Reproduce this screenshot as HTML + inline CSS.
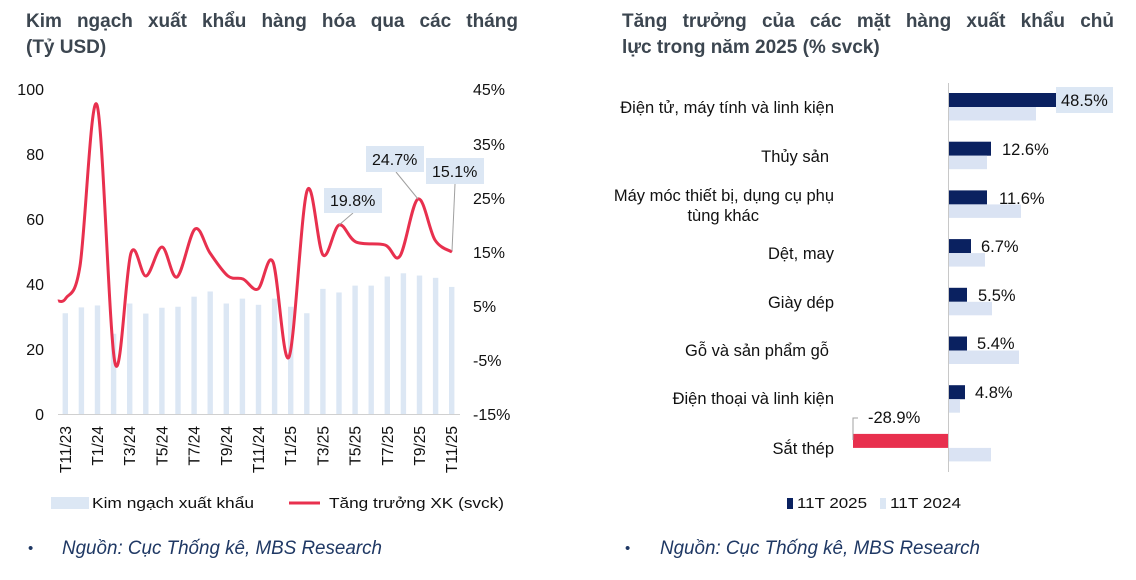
<!DOCTYPE html>
<html><head><meta charset="utf-8"><style>
body{margin:0;background:#fff;width:1136px;height:580px;overflow:hidden;position:relative}
svg{display:block;font-family:"Liberation Sans",sans-serif}
.t{position:absolute;font-family:"Liberation Sans",sans-serif;font-weight:bold;font-size:19px;color:#3c4650;line-height:26px;text-align:justify;text-align-last:justify;width:492px;white-space:nowrap}
.t2{position:absolute;font-family:"Liberation Sans",sans-serif;font-weight:bold;font-size:19px;color:#3c4650;line-height:26px}
</style></head><body>
<svg width="1136" height="580" viewBox="0 0 1136 580">
<g font-size="16" fill="#111">
<text x="44" y="95" text-anchor="end">100</text>
<text x="44" y="160" text-anchor="end">80</text>
<text x="44" y="225" text-anchor="end">60</text>
<text x="44" y="290" text-anchor="end">40</text>
<text x="44" y="355" text-anchor="end">20</text>
<text x="44" y="420" text-anchor="end">0</text>
<text x="473" y="95">45%</text>
<text x="473" y="150">35%</text>
<text x="473" y="204">25%</text>
<text x="473" y="258">15%</text>
<text x="473" y="312">5%</text>
<text x="473" y="366">-5%</text>
<text x="473" y="420">-15%</text>
</g>
<line x1="58" y1="414.5" x2="460" y2="414.5" stroke="#d0d0d0" stroke-width="1"/>
<g fill="#dce7f4" id="bars"></g>
<path id="ln" fill="none" stroke="#e8304e" stroke-width="3" stroke-linejoin="round"/>
<g stroke="#a0a0a0" stroke-width="1">
<line x1="353" y1="213" x2="339" y2="225"/>
<line x1="396" y1="172" x2="418" y2="199"/>
<line x1="455" y1="184" x2="452" y2="251"/>
</g>
<g font-size="16" fill="#111">
<rect x="324" y="188" width="58" height="25" fill="#dce7f4"/><text x="330" y="206">19.8%</text>
<rect x="366" y="146" width="58" height="26" fill="#dce7f4"/><text x="372" y="165">24.7%</text>
<rect x="426" y="158" width="58" height="26" fill="#dce7f4"/><text x="432" y="177">15.1%</text>
</g>
<g font-size="15.5" fill="#111" id="xl"></g>
<rect x="51" y="497" width="38" height="12" fill="#dce7f4"/>
<text x="92" y="508" font-size="15" fill="#111" textLength="162" lengthAdjust="spacingAndGlyphs">Kim ngạch xuất khẩu</text>
<line x1="289" y1="503" x2="320" y2="503" stroke="#e8304e" stroke-width="3"/>
<text x="329" y="508" font-size="15" fill="#111" textLength="175" lengthAdjust="spacingAndGlyphs">Tăng trưởng XK (svck)</text>
<text x="28" y="553" font-size="15" fill="#1f3864">•</text>
<text x="62" y="554" font-size="19" font-style="italic" fill="#1f3864" textLength="320" lengthAdjust="spacingAndGlyphs">Nguồn: Cục Thống kê, MBS Research</text>

<line x1="948.5" y1="83" x2="948.5" y2="472" stroke="#c8c8c8" stroke-width="1"/>
<g id="hb"></g>
<rect x="1056" y="87" width="57" height="26" fill="#dce7f4"/>
<g font-size="16.5" fill="#111">
<text x="1061" y="106">48.5%</text>
<text x="1002" y="155">12.6%</text>
<text x="999" y="204">11.6%</text>
<text x="981" y="252">6.7%</text>
<text x="978" y="301">5.5%</text>
<text x="977" y="349">5.4%</text>
<text x="975" y="398">4.8%</text>
<text x="868" y="423">-28.9%</text>
</g>
<path d="M858 418 L853 418 L853 440" fill="none" stroke="#a0a0a0"/>
<g font-size="16.5" fill="#111" text-anchor="end">
<text x="834" y="113">Điện tử, máy tính và linh kiện</text>
<text x="829" y="162">Thủy sản</text>
<text x="834" y="201">Máy móc thiết bị, dụng cụ phụ</text>
<text x="759" y="221">tùng khác</text>
<text x="834" y="259">Dệt, may</text>
<text x="834" y="308">Giày dép</text>
<text x="829" y="356">Gỗ và sản phẩm gỗ</text>
<text x="834" y="404">Điện thoại và linh kiện</text>
<text x="834" y="454">Sắt thép</text>
</g>
<rect x="787" y="498" width="6" height="11" fill="#0a2160"/>
<text x="797" y="508" font-size="15" fill="#111" textLength="70" lengthAdjust="spacingAndGlyphs">11T 2025</text>
<rect x="880" y="498" width="6" height="11" fill="#dce7f4"/>
<text x="890" y="508" font-size="15" fill="#111" textLength="71" lengthAdjust="spacingAndGlyphs">11T 2024</text>
<text x="625" y="553" font-size="15" fill="#1f3864">•</text>
<text x="660" y="554" font-size="19" font-style="italic" fill="#1f3864" textLength="320" lengthAdjust="spacingAndGlyphs">Nguồn: Cục Thống kê, MBS Research</text>
</svg>
<div class="t" style="left:26px;top:9px">Kim ngạch xuất khẩu hàng hóa qua các tháng</div>
<div class="t2" style="left:26px;top:35px">(Tỷ USD)</div>
<div class="t" style="left:622px;top:9px">Tăng trưởng của các mặt hàng xuất khẩu chủ</div>
<div class="t2" style="left:622px;top:35px">lực trong năm 2025 (% svck)</div>
<script>
var NS="http://www.w3.org/2000/svg";
var vals=[31,32.8,33.4,24.7,34,30.9,32.7,33,36.1,37.7,34,35.5,33.6,35.5,33,31,38.5,37.4,39.5,39.5,42.3,43.3,42.6,41.9,39.1];
var g=document.getElementById("bars");
var xl=document.getElementById("xl");
var labs=["T11/23","T1/24","T3/24","T5/24","T7/24","T9/24","T11/24","T1/25","T3/25","T5/25","T7/25","T9/25","T11/25"];
for(var i=0;i<25;i++){var cx=65.3+16.1*i,h=vals[i]*3.25;var r=document.createElementNS(NS,"rect");
r.setAttribute("x",cx-2.7);r.setAttribute("y",414-h);r.setAttribute("width",5.4);r.setAttribute("height",h);g.appendChild(r);
if(i%2==0){var t=document.createElementNS(NS,"text");t.setAttribute("transform","translate("+(cx+5.5)+",426) rotate(-90)");t.setAttribute("text-anchor","end");t.textContent=labs[i/2];xl.appendChild(t);}}
var p=[[58,301],[66,298],[80,266],[97,105],[115,363],[131,253],[146,276],[162,247],[177,277],[195,229],[210,253],[228,276],[243,279],[258,289],[273,262],[289,357],[307,191],[323,255],[339,225],[356,242],[385,245],[400,256],[418,199],[435,240],[452,252]];
var d="M"+p[0][0]+" "+p[0][1];
for(var i=0;i<p.length-1;i++){var p0=p[Math.max(0,i-1)],p1=p[i],p2=p[i+1],p3=p[Math.min(p.length-1,i+2)];
var c1=[p1[0]+(p2[0]-p0[0])/6,p1[1]+(p2[1]-p0[1])/6],c2=[p2[0]-(p3[0]-p1[0])/6,p2[1]-(p3[1]-p1[1])/6];
d+=" C"+c1[0]+" "+c1[1]+" "+c2[0]+" "+c2[1]+" "+p2[0]+" "+p2[1];}
document.getElementById("ln").setAttribute("d",d);
var hb=document.getElementById("hb");
var dk=[108,42,38,22,18,18,16,-95],lt=[87,38,72,36,43,70,11,42];
for(var i=0;i<8;i++){var y=93+48.7*i;var a=document.createElementNS(NS,"rect");
var w=dk[i];a.setAttribute("x",w<0?948+w:949);a.setAttribute("y",y);a.setAttribute("width",Math.abs(w));a.setAttribute("height",14);a.setAttribute("fill",w<0?"#e8304e":"#0a2160");hb.appendChild(a);
var b=document.createElementNS(NS,"rect");b.setAttribute("x",949);b.setAttribute("y",y+14);b.setAttribute("width",lt[i]);b.setAttribute("height",13.5);b.setAttribute("fill","#dae3f3");hb.appendChild(b);}
</script>
</body></html>
